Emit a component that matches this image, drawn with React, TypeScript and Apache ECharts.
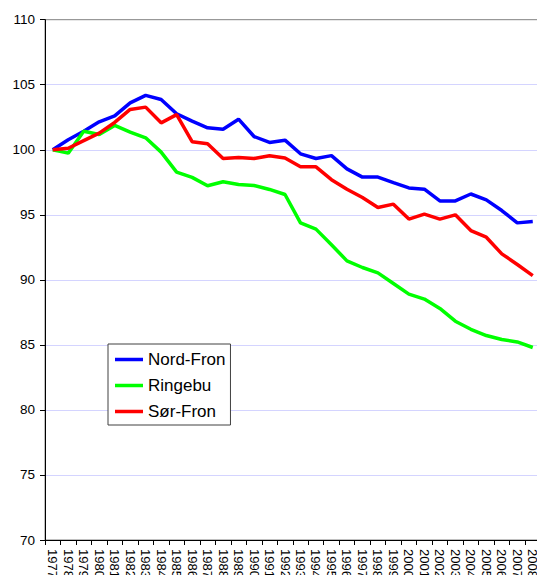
import React, { useEffect, useRef } from "react";
import * as echarts from "echarts";

const years = [
  "1977", "1978", "1979", "1980", "1981", "1982", "1983", "1984", "1985", "1986",
  "1987", "1988", "1989", "1990", "1991", "1992", "1993", "1994", "1995", "1996",
  "1997", "1998", "1999", "2000", "2001", "2002", "2003", "2004", "2005", "2006",
  "2007", "2008",
];

const nordFron = [
  100, 100.77, 101.43, 102.15, 102.6, 103.6, 104.18, 103.87, 102.77, 102.2,
  101.69, 101.58, 102.35, 101.02, 100.56, 100.74, 99.69, 99.33, 99.55, 98.53,
  97.9, 97.9, 97.48, 97.07, 96.97, 96.07, 96.07, 96.6, 96.15, 95.33,
  94.38, 94.48,
];

const ringebu = [
  100, 99.74, 101.43, 101.18, 101.87, 101.35, 100.92, 99.82, 98.28, 97.88,
  97.23, 97.54, 97.33, 97.25, 96.95, 96.56, 94.38, 93.9, 92.7, 91.46,
  90.95, 90.54, 89.72, 88.9, 88.52, 87.8, 86.82, 86.2, 85.72, 85.41,
  85.23, 84.8,
];

const sorFron = [
  100, 100.12, 100.7, 101.28, 102.1, 103.1, 103.28, 102.07, 102.7, 100.62,
  100.46, 99.33, 99.41, 99.33, 99.54, 99.36, 98.69, 98.69, 97.7, 96.97,
  96.33, 95.56, 95.82, 94.67, 95.05, 94.67, 95.0, 93.79, 93.28, 92.0,
  91.18, 90.33,
];

const yMin = 70;
const yMax = 110;
const yStep = 5;

const FONT = "'Liberation Sans', Arial, sans-serif";

export default function App() {
  const ref = useRef<HTMLDivElement>(null);

  useEffect(() => {
    if (!ref.current) return;
    const chart = echarts.init(ref.current, null, { renderer: "svg" });
    const mk = (name: string, data: number[], color: string) => ({
      name,
      type: "line",
      data,
      symbol: "none",
      showSymbol: false,
      itemStyle: { color },
      lineStyle: { color, width: 3.5 },
    });
    chart.setOption({
      animation: false,
      backgroundColor: "#ffffff",
      textStyle: { fontFamily: FONT },
      grid: {
        show: true,
        left: 45,
        top: 19.7,
        width: 495.5,
        height: 520.3,
        borderColor: "#808080",
        borderWidth: 1,
        backgroundColor: "transparent",
      },
      legend: {
        orient: "vertical",
        left: 108,
        top: 344,
        padding: [7, 5, 5, 7],
        itemGap: 9,
        itemWidth: 28,
        itemHeight: 3.5,
        icon: "rect",
        backgroundColor: "#ffffff",
        borderColor: "#404040",
        borderWidth: 1,
        textStyle: { fontSize: 17, fontFamily: FONT, color: "#000", lineHeight: 17 },
        data: ["Nord-Fron", "Ringebu", "Sør-Fron"],
      },
      xAxis: {
        type: "category",
        data: years,
        boundaryGap: true,
        axisLine: { show: true, lineStyle: { color: "#000", width: 1 } },
        axisTick: { show: true, alignWithLabel: false, length: 5, lineStyle: { color: "#000" } },
        axisLabel: {
          interval: 0,
          rotate: -90,
          margin: 9,
          fontSize: 13,
          fontFamily: FONT,
          color: "#000",
        },
        splitLine: { show: false },
      },
      yAxis: {
        type: "value",
        min: yMin,
        max: yMax,
        interval: yStep,
        axisLine: { show: true, lineStyle: { color: "#000", width: 1 } },
        axisTick: { show: true, length: 5, lineStyle: { color: "#000" } },
        axisLabel: { margin: 10, fontSize: 13.5, fontFamily: FONT, color: "#000" },
        splitLine: {
          show: true,
          showMinLine: false,
          showMaxLine: false,
          lineStyle: { color: "#d4d4ff", width: 1 },
        },
      },
      series: [
        mk("Nord-Fron", nordFron, "#0000ff"),
        mk("Ringebu", ringebu, "#00ff00"),
        mk("Sør-Fron", sorFron, "#ff0000"),
      ],
    });
    return () => chart.dispose();
  }, []);

  return (
    <div
      style={{
        position: "fixed",
        left: 0,
        top: 0,
        width: 537,
        height: 575,
        overflow: "hidden",
        background: "#fff",
      }}
    >
      <div ref={ref} style={{ width: 560, height: 600 }} />
    </div>
  );
}
